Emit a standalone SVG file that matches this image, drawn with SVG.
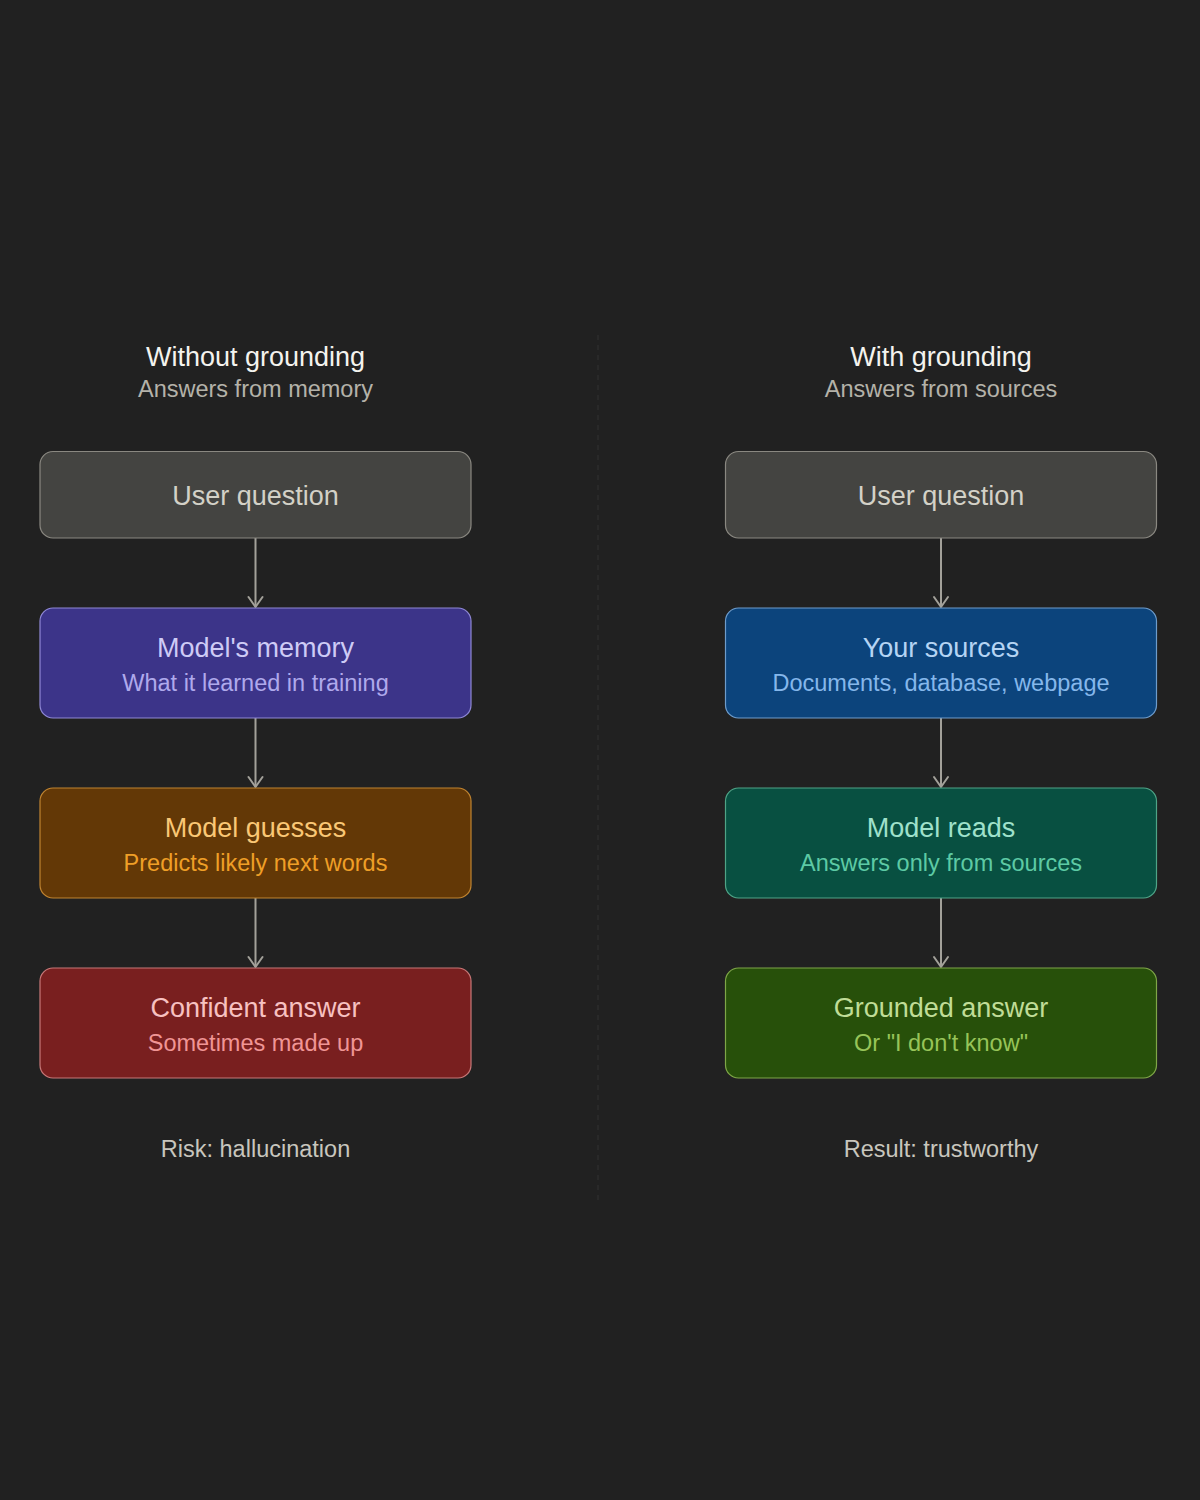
<svg xmlns="http://www.w3.org/2000/svg" width="1200" height="1500" viewBox="0 0 1200 1500">
<defs>
<marker id="arr" viewBox="0 0 14 18" refX="12" refY="9" markerWidth="14" markerHeight="18" markerUnits="userSpaceOnUse" orient="auto">
<path d="M2,2 L12,9 L2,16" fill="none" stroke="#A3A19A" stroke-width="2" stroke-linecap="round" stroke-linejoin="round"/>
</marker>
</defs>
<style>
text{font-family:"Liberation Sans",Arial,sans-serif;text-anchor:middle}
.hd{font-size:27px;fill:#F4F3EE}
.hs{font-size:23.5px;fill:#B4B2A9}
.t{font-size:27px}
.s{font-size:23.5px}
.ft{font-size:23.5px;fill:#C8C6BE}
.box{stroke-width:1.2}
.conn line{stroke:#A3A19A;stroke-width:2;marker-end:url(#arr)}
</style>
<rect width="1200" height="1500" fill="#212121"/>
<line x1="598" y1="335" x2="598" y2="1205" stroke="#333333" stroke-width="1" stroke-dasharray="5 5"/>

<g id="header-left">
<text class="hd" x="255.5" y="365.5">Without grounding</text>
<text class="hs" x="255.5" y="396.5">Answers from memory</text>
</g>
<g id="header-right">
<text class="hd" x="941" y="365.5">With grounding</text>
<text class="hs" x="941" y="396.5">Answers from sources</text>
</g>

<g class="conn">
<line x1="255.5" y1="538" x2="255.5" y2="607"/>
<line x1="255.5" y1="718" x2="255.5" y2="787"/>
<line x1="255.5" y1="898" x2="255.5" y2="967"/>
<line x1="941" y1="538" x2="941" y2="607"/>
<line x1="941" y1="718" x2="941" y2="787"/>
<line x1="941" y1="898" x2="941" y2="967"/>
</g>

<g id="l-question">
<rect class="box" x="40" y="451.5" width="431" height="86.5" rx="13" fill="#444441" stroke="#8A8881"/>
<text class="t" x="255.5" y="504.5" fill="#D3D1C7">User question</text>
</g>
<g id="l-memory">
<rect class="box" x="40" y="608" width="431" height="110" rx="13" fill="#3C3489" stroke="#8F88D6"/>
<text class="t" x="255.5" y="656.5" fill="#CECBF6">Model's memory</text>
<text class="s" x="255.5" y="691" fill="#AFA9EC">What it learned in training</text>
</g>
<g id="l-guesses">
<rect class="box" x="40" y="788" width="431" height="110" rx="13" fill="#633806" stroke="#C08430"/>
<text class="t" x="255.5" y="836.5" fill="#FAC775">Model guesses</text>
<text class="s" x="255.5" y="871" fill="#EF9F27">Predicts likely next words</text>
</g>
<g id="l-answer">
<rect class="box" x="40" y="968" width="431" height="110" rx="13" fill="#791F1F" stroke="#C87878"/>
<text class="t" x="255.5" y="1016.5" fill="#F7C1C1">Confident answer</text>
<text class="s" x="255.5" y="1051" fill="#F09595">Sometimes made up</text>
</g>
<g id="l-footer">
<text class="ft" x="255.5" y="1156.5">Risk: hallucination</text>
</g>

<g id="r-question">
<rect class="box" x="725.5" y="451.5" width="431" height="86.5" rx="13" fill="#444441" stroke="#8A8881"/>
<text class="t" x="941" y="504.5" fill="#D3D1C7">User question</text>
</g>
<g id="r-sources">
<rect class="box" x="725.5" y="608" width="431" height="110" rx="13" fill="#0C447C" stroke="#6E9CCB"/>
<text class="t" x="941" y="656.5" fill="#B5D4F4">Your sources</text>
<text class="s" x="941" y="691" fill="#85B7EB">Documents, database, webpage</text>
</g>
<g id="r-reads">
<rect class="box" x="725.5" y="788" width="431" height="110" rx="13" fill="#085041" stroke="#4FA487"/>
<text class="t" x="941" y="836.5" fill="#9FE1CB">Model reads</text>
<text class="s" x="941" y="871" fill="#5DCAA5">Answers only from sources</text>
</g>
<g id="r-answer">
<rect class="box" x="725.5" y="968" width="431" height="110" rx="13" fill="#27500A" stroke="#7FA648"/>
<text class="t" x="941" y="1016.5" fill="#C0DD97">Grounded answer</text>
<text class="s" x="941" y="1051" fill="#97C459">Or "I don't know"</text>
</g>
<g id="r-footer">
<text class="ft" x="941" y="1156.5">Result: trustworthy</text>
</g>
</svg>
